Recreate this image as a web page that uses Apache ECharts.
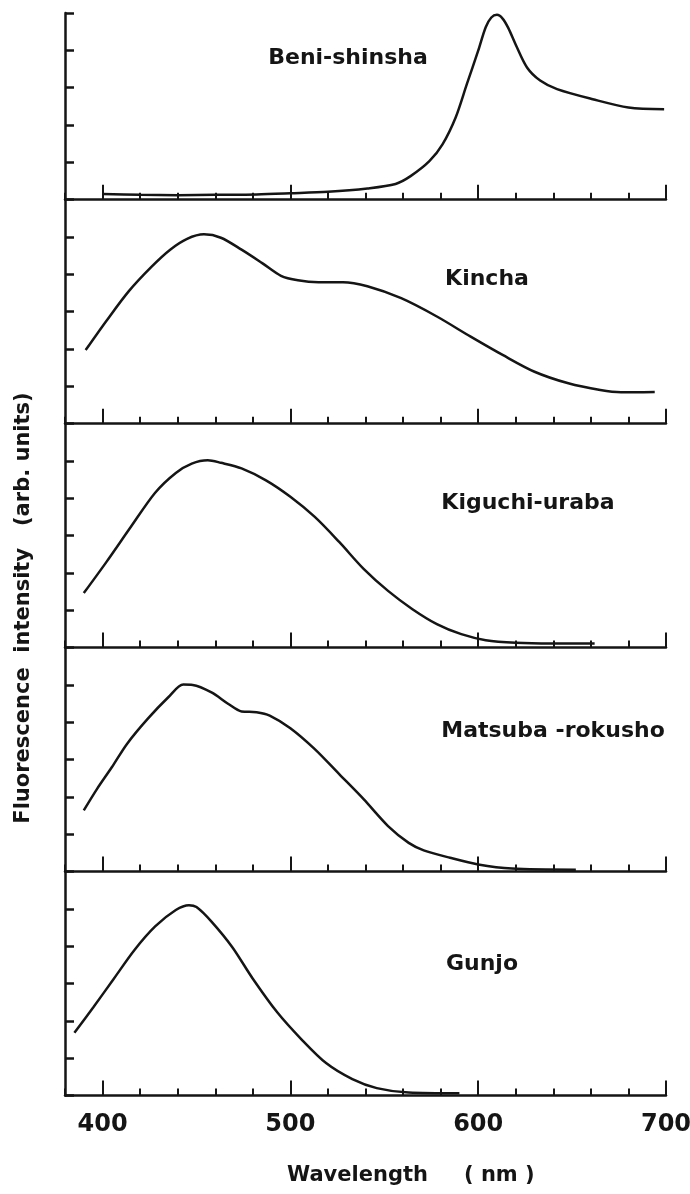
<!DOCTYPE html>
<html>
<head>
<meta charset="utf-8">
<script src="https://cdn.jsdelivr.net/npm/echarts@6/dist/echarts.min.js"></script>
<style>
  html, body { margin: 0; padding: 0; background: #fff; }
  #chart { width: 690px; height: 1194px; }
</style>
</head>
<body>
<div id="chart"></div>
<script>
// wavelength (nm) / intensity (arb. units)
const beniX = [400, 420, 440, 460, 482, 500, 520, 541, 556, 564, 574, 581, 588, 594, 600, 604, 607, 610, 613, 616, 620, 626, 633, 642, 661, 680, 699]
const beniY = [0.15, 0.13, 0.12, 0.13, 0.14, 0.17, 0.21, 0.3, 0.42, 0.63, 1.03, 1.48, 2.2, 3.1, 3.99, 4.62, 4.88, 4.95, 4.85, 4.6, 4.15, 3.54, 3.19, 2.96, 2.69, 2.47, 2.42]

const kinchaX = [391, 402, 414, 426, 436, 445, 454, 463, 474, 485, 495, 504, 515, 528, 541, 559, 578, 596, 613, 630, 648, 665, 676, 694]
const kinchaY = [1.97, 2.75, 3.55, 4.2, 4.66, 4.95, 5.07, 4.98, 4.66, 4.3, 3.96, 3.84, 3.79, 3.79, 3.68, 3.36, 2.87, 2.33, 1.84, 1.39, 1.08, 0.9, 0.84, 0.85]

const kiguchiX = [390, 402, 415, 428, 439, 447.5, 456, 463, 474, 487, 500, 513, 526, 539, 552, 565, 578, 591, 604, 620, 639, 662]
const kiguchiY = [1.46, 2.29, 3.23, 4.15, 4.68, 4.93, 5.02, 4.95, 4.8, 4.48, 4.04, 3.5, 2.83, 2.11, 1.52, 1.03, 0.63, 0.36, 0.2, 0.13, 0.11, 0.11]

const matsubaX = [390, 397, 405, 413, 424, 435, 443, 448, 458, 467, 474, 482, 489, 500, 513, 526, 539, 552, 563, 571, 585, 600, 618, 652]
const matsubaY = [1.64, 2.21, 2.8, 3.42, 4.09, 4.67, 5.01, 5.0, 4.8, 4.49, 4.29, 4.27, 4.18, 3.84, 3.28, 2.61, 1.94, 1.22, 0.77, 0.57, 0.37, 0.19, 0.08, 0.05]

const gunjoX = [385, 395, 406, 417, 428, 439, 446, 450, 458, 469, 480, 493, 506, 519, 533, 546, 563, 590]
const gunjoY = [1.68, 2.36, 3.13, 3.9, 4.53, 4.97, 5.1, 5.05, 4.66, 3.98, 3.13, 2.23, 1.5, 0.87, 0.44, 0.2, 0.08, 0.06]

const names = ['Beni-shinsha', 'Kincha', 'Kiguchi-uraba', 'Matsuba -rokusho', 'Gunjo']
const majorTicks = [400, 500, 600, 700]
const yMax = [5, 6, 6, 6, 6]

const ink = '#151515'
const font = 'DejaVu Sans'

const pairs = (xs, ys) => xs.map((x, i) => [x, ys[i]])
const spectra = [
  pairs(beniX, beniY),
  pairs(kinchaX, kinchaY),
  pairs(kiguchiX, kiguchiY),
  pairs(matsubaX, matsubaY),
  pairs(gunjoX, gunjoY)
]

// panel layout: one y unit = 37.33px
const unit = 37.33
const grids = []
let panelTop = 13
yMax.forEach((m) => {
  grids.push({ left: 65, width: 601, top: panelTop, height: m * unit, containLabel: false, outerBoundsMode: 'none' })
  panelTop += m * unit
})

const xAxes = []
const yAxes = []
const series = []
grids.forEach((g, i) => {
  // minor ticks every 20 nm, with the axis line
  xAxes.push({
    type: 'value', gridIndex: i, position: 'bottom', min: 380, max: 700, interval: 20,
    axisLine: { show: true, onZero: false, lineStyle: { color: ink, width: 2.5 } },
    axisTick: { show: true, inside: true, length: 7, lineStyle: { color: ink, width: 2 } },
    axisLabel: { show: false },
    splitLine: { show: false }
  })
  // long ticks at every 100 nm
  xAxes.push({
    type: 'value', gridIndex: i, position: 'bottom', min: 380, max: 700,
    axisLine: { show: false, onZero: false },
    axisTick: { show: true, inside: true, length: 15, customValues: majorTicks, lineStyle: { color: ink, width: 2 } },
    axisLabel: { show: false },
    splitLine: { show: false }
  })
  yAxes.push({
    type: 'value', gridIndex: i, min: 0, max: yMax[i], interval: 1,
    axisLine: { show: true, lineStyle: { color: ink, width: 2.5 } },
    axisTick: { show: true, inside: true, length: 9, lineStyle: { color: ink, width: 2.5 } },
    axisLabel: { show: false },
    splitLine: { show: false }
  })
  series.push({
    name: names[i],
    type: 'line',
    xAxisIndex: i * 2,
    yAxisIndex: i,
    data: spectra[i],
    smooth: 0.3,
    showSymbol: false,
    lineStyle: { color: ink, width: 2.5 }
  })
})

// wavelength labels under the bottom panel only
xAxes.push({
  type: 'value', gridIndex: grids.length - 1, position: 'bottom', min: 380, max: 700,
  axisLine: { show: false, onZero: false },
  axisTick: { show: false },
  axisLabel: {
    show: true, customValues: majorTicks, margin: 29, verticalAlign: 'middle',
    color: ink, fontFamily: font, fontWeight: 'bold', fontSize: 24
  },
  splitLine: { show: false }
})

const label = (text, x, y, extra) => ({
  type: 'text', x: x, y: y,
  style: Object.assign({
    text: text, fill: ink, fontFamily: font, fontWeight: 'bold', fontSize: 22,
    align: 'center', verticalAlign: 'middle'
  }, extra || {})
})

const option = {
  animation: false,
  backgroundColor: '#fff',
  grid: grids,
  xAxis: xAxes,
  yAxis: yAxes,
  series: series,
  graphic: [
    label(names[0], 348, 58),
    label(names[1], 487, 279),
    label(names[2], 528, 503),
    label(names[3], 553, 731),
    label(names[4], 482, 964),
    label('Wavelength', 287, 1176, { align: 'left', fontSize: 21 }),
    label('( nm )', 464, 1176, { align: 'left', fontSize: 21 }),
    Object.assign(label('Fluorescence  intensity   (arb. units)', 24, 608, { fontSize: 21 }), { rotation: Math.PI / 2 })
  ]
}

const chart = echarts.init(document.getElementById('chart'))
chart.setOption(option)
</script>
</body>
</html>
